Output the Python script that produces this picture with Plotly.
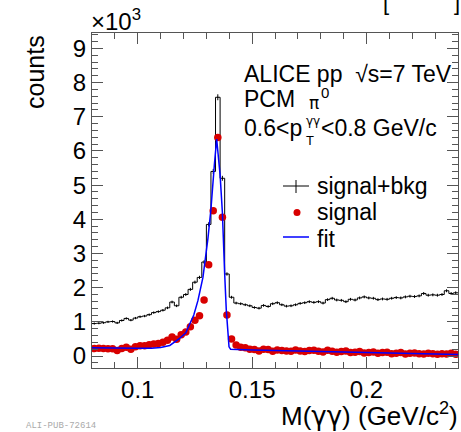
import plotly.graph_objects as go

# ---------------- data ----------------
bin_width = 0.002
bin_centers = [round(0.081 + 0.002 * i, 3) for i in range(80)]

sig_bkg = [950, 960, 975, 1000, 1010, 970, 1040, 1100, 1050, 1110,
           1150, 1170, 1210, 1270, 1300, 1340, 1410, 1580, 1470, 1720,
           1800, 1950, 2160, 2300, 2750, 3850, 5400, 7570, 5200, 2400,
           1720, 1550, 1530, 1500, 1470, 1420, 1400, 1480, 1450, 1530,
           1560, 1500, 1460, 1470, 1500, 1540, 1560, 1590, 1570, 1590,
           1550, 1650, 1690, 1640, 1630, 1590, 1660, 1640, 1700, 1730,
           1700, 1690, 1650, 1670, 1660, 1690, 1710, 1700, 1730, 1750,
           1740, 1760, 1830, 1780, 1790, 1780, 1800, 1910, 1830, 1850]

signal = [220, 230, 220, 210, 215, 160, 220, 260, 200, 270,
          300, 300, 330, 350, 370, 400, 460, 560, 490, 620,
          700, 860, 1050, 1180, 1640, 2670, 4250, 6390, 4060, 1200,
          500, 320, 260, 240, 200, 190, 150, 200, 190, 140,
          180, 160, 150, 140, 180, 150, 130, 160, 170, 140,
          120, 170, 140, 110, 130, 150, 100, 110, 130, 90,
          100, 120, 80, 100, 110, 70, 80, 100, 60, 80,
          90, 70, 60, 80, 70, 50, 70, 60, 80, 50]

fit_x = [0.080, 0.090, 0.100, 0.106, 0.110, 0.114, 0.118, 0.121, 0.1227,
         0.1245, 0.1263, 0.1285, 0.1307, 0.132, 0.1335, 0.1345, 0.136,
         0.137, 0.138, 0.1387, 0.1399, 0.1406, 0.150, 0.170, 0.190,
         0.210, 0.230, 0.240]
fit_y = [240, 225, 225, 230, 250, 310, 500, 680, 930,
         1200, 1620, 2300, 3450, 4300, 5600, 6350, 5300,
         4200, 2400, 1350, 270, 200, 180, 150, 120,
         90, 60, 45]

x_ticks = [0.1, 0.15, 0.2]
x_ticklabels = ["0.1", "0.15", "0.2"]
y_ticks = [0, 1000, 2000, 3000, 4000, 5000, 6000, 7000, 8000, 9000]
y_ticklabels = ["0", "1", "2", "3", "4", "5", "6", "7", "8", "9"]

# ---------------- geometry helpers ----------------
W, H = 461, 432
L, R, T, B = 92, 3, 33, 64
PW, PH = W - L - R, H - T - B


def px(p):
    return (p - L) / PW


def py(p):
    return (H - B - p) / PH


FONT = "Liberation Sans, Arial, Helvetica, sans-serif"
GREEK = "DejaVu Sans, sans-serif"

# step outline using bin edges
edges = [c - bin_width / 2 for c in bin_centers] + [bin_centers[-1] + bin_width / 2]
step_y = sig_bkg + [sig_bkg[-1]]

fig = go.Figure()
fig.add_trace(go.Scatter(x=edges, y=step_y, mode="lines", line_shape="hv",
                         line=dict(color="black", width=1), showlegend=False,
                         hoverinfo="skip"))
fig.add_trace(go.Scatter(x=bin_centers, y=sig_bkg, mode="markers",
                         marker=dict(size=1, color="black"),
                         error_y=dict(type="data", array=[v ** 0.5 for v in sig_bkg],
                                      color="black", thickness=1, width=0),
                         showlegend=False))
fig.add_trace(go.Scatter(x=bin_centers, y=signal, mode="markers",
                         marker=dict(size=7.5, color="#d80000"),
                         showlegend=False))
fig.add_trace(go.Scatter(x=fit_x, y=fit_y, mode="lines",
                         line=dict(color="#0000ff", width=1.5),
                         showlegend=False))

axis_col = "#555555"
fig.update_xaxes(range=[0.08, 0.24], tickvals=x_ticks, ticktext=x_ticklabels,
                 ticks="inside", ticklen=11, tickcolor=axis_col, tickwidth=1,
                 showline=True, linecolor=axis_col, linewidth=1, mirror="allticks",
                 showgrid=False, zeroline=False,
                 minor=dict(dtick=0.01, tick0=0, ticks="inside", ticklen=6,
                            tickcolor=axis_col, showgrid=False),
                 tickfont=dict(family=FONT, size=24, color="black"))
fig.update_yaxes(range=[-350, 9450], tickvals=y_ticks, ticktext=y_ticklabels,
                 ticks="inside", ticklen=11, tickcolor=axis_col, tickwidth=1,
                 showline=True, linecolor=axis_col, linewidth=1, mirror="allticks",
                 showgrid=False, zeroline=False,
                 minor=dict(dtick=200, tick0=0, ticks="inside", ticklen=6,
                            tickcolor=axis_col, showgrid=False),
                 tickfont=dict(family=FONT, size=24, color="black"))

ann = []


def text(x, y, s, size=23, xa="left", ya="middle", angle=0, color="black", family=FONT):
    ann.append(dict(x=px(x), y=py(y), xref="paper", yref="paper", text=s,
                    showarrow=False, xanchor=xa, yanchor=ya, textangle=angle,
                    font=dict(family=family, size=size, color=color)))


text(89, 20, "×10<sup>3</sup>", size=24)
text(35, 72, "counts", size=25, xa="center", angle=-90)
text(460, 414, "M(<span style='font-family:DejaVu Sans'>γγ</span>) (GeV/c<sup>2</sup>)",
     size=26, xa="right")
text(24, 426, "ALI-PUB-72614", size=9, color="#aaaaaa",
     family="Liberation Mono, Courier New, monospace")
text(242, 74, "ALICE pp  √s=7 TeV", size=23)
text(242, 99, "PCM", size=23)
text(307, 103, "π", size=17, family=GREEK)
text(319, 93, "0", size=15)
text(242, 128, "0.6&lt;p", size=23)
text(304, 121, "γγ", size=12, family=GREEK)
text(304, 140, "T", size=13)
text(319, 128, "&lt;0.8 GeV/c", size=23)
text(315, 186, "signal+bkg", size=23)
text(315, 212, "signal", size=23)
text(315, 239, "fit", size=23)
text(381, 2, "[", size=22)
text(452, 2, "]", size=22)

fig.update_layout(annotations=ann)

shapes = [
    dict(type="line", xref="paper", yref="paper", x0=px(283), x1=px(309),
         y0=py(186), y1=py(186), line=dict(color="black", width=1)),
    dict(type="line", xref="paper", yref="paper", x0=px(296), x1=px(296),
         y0=py(180), y1=py(193), line=dict(color="black", width=1)),
    dict(type="circle", xref="paper", yref="paper", x0=px(293.5), x1=px(300.5),
         y0=py(209), y1=py(216), fillcolor="#d80000", line=dict(width=0)),
    dict(type="line", xref="paper", yref="paper", x0=px(283), x1=px(309),
         y0=py(237), y1=py(237), line=dict(color="#0000ff", width=1.5)),
]
fig.update_layout(shapes=shapes)

fig.update_layout(width=W, height=H, autosize=False,
                  margin=dict(l=L, r=R, t=T, b=B, pad=0),
                  paper_bgcolor="white", plot_bgcolor="white",
                  showlegend=False, font=dict(family=FONT))

fig.write_html("out.html")
